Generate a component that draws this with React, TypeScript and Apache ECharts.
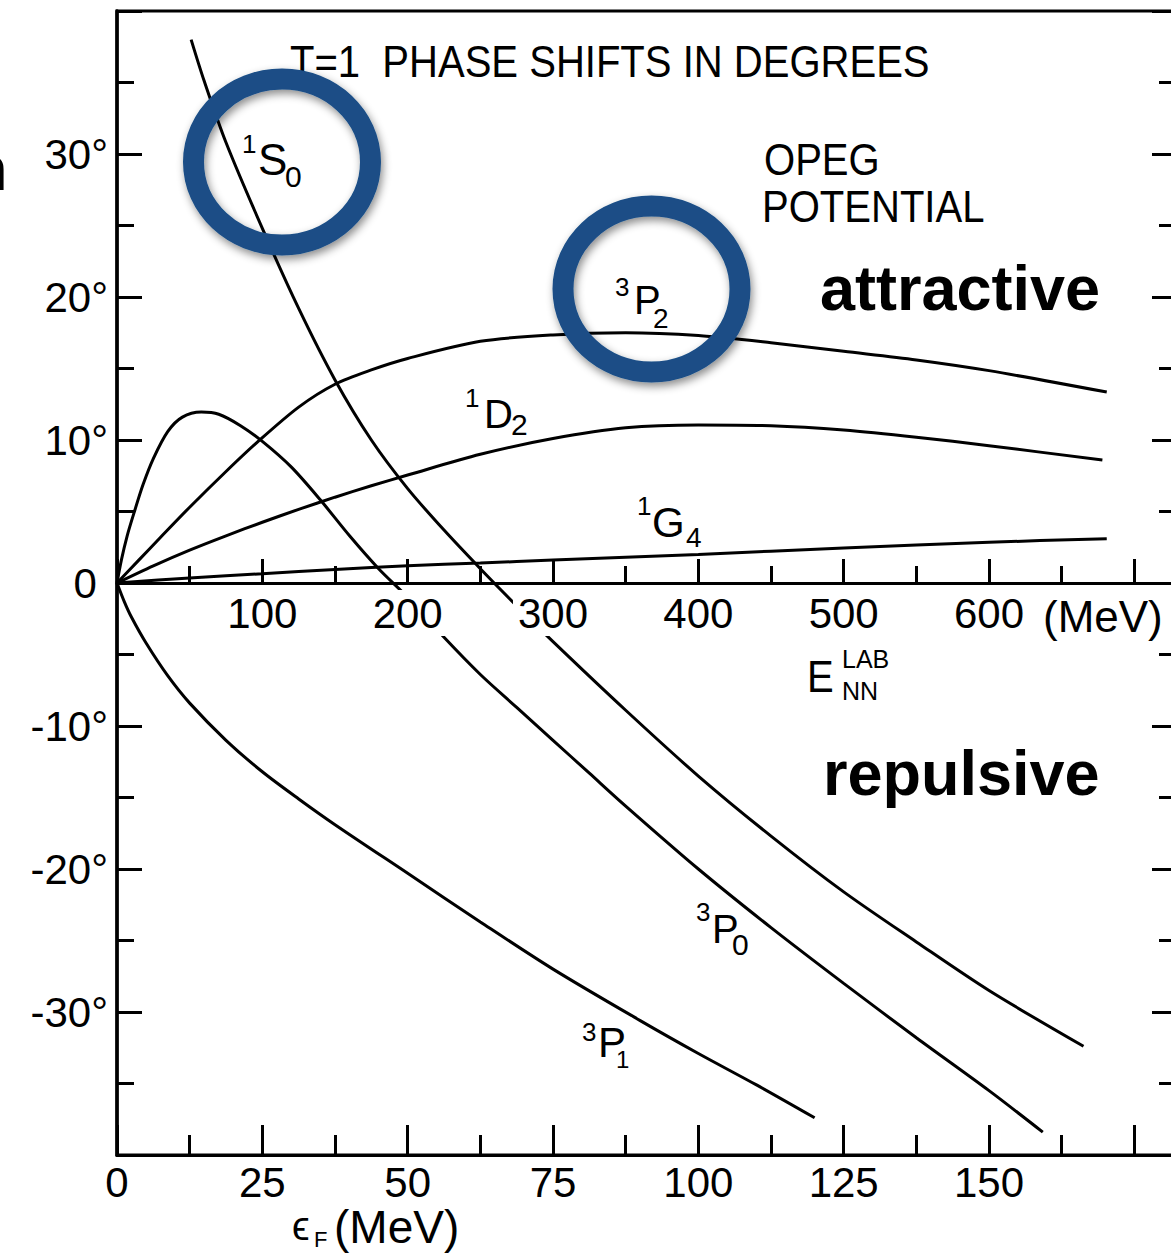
import React, { useEffect, useRef } from "react";
import * as echarts from "echarts";

// T = 1 nucleon-nucleon phase shifts (degrees) vs. laboratory energy E_NN (MeV), OPEG potential
const S0: [number, number][] = [
  [51, 38.0], [60, 35.1], [75, 30.8], [100, 24.8], [125, 19.2], [150, 14.2], [175, 10.0],
  [200, 6.6], [225, 3.7], [250, 1.0], [275, -1.6], [300, -4.1], [350, -8.9], [400, -13.5],
  [450, -17.7], [500, -21.6], [550, -25.1], [600, -28.5], [665, -32.4],
];
const P0: [number, number][] = [
  [0, 0], [3, 1.6], [7, 3.3], [12, 5.0], [18, 6.9], [25, 8.7], [35, 10.6], [45, 11.6],
  [58, 11.95], [70, 11.8], [85, 11.0], [100, 9.9], [120, 8.1], [140, 5.8], [160, 3.3],
  [180, 1.0], [200, -1.0], [225, -3.8], [250, -6.4], [275, -8.7], [300, -11.0], [325, -13.3],
  [350, -15.6], [400, -20.0], [450, -24.1], [500, -28.0], [550, -31.8], [600, -35.5], [637, -38.4],
];
const P1: [number, number][] = [
  [0, 0], [5, -1.3], [10, -2.4], [20, -4.2], [35, -6.5], [50, -8.4], [75, -11.0], [100, -13.2],
  [125, -15.1], [150, -16.9], [200, -20.3], [250, -23.7], [300, -27.0], [360, -30.6],
  [400, -32.9], [440, -35.1], [480, -37.4],
];
const P2: [number, number][] = [
  [0, 0], [15, 1.6], [30, 3.2], [50, 5.3], [75, 7.8], [96, 9.8], [125, 12.3], [150, 13.9],
  [175, 14.9], [200, 15.7], [250, 16.9], [300, 17.35], [350, 17.5], [400, 17.3], [450, 16.8],
  [500, 16.2], [550, 15.6], [600, 14.85], [681, 13.35],
];
const D2: [number, number][] = [
  [0, 0], [25, 1.2], [50, 2.3], [75, 3.3], [100, 4.25], [125, 5.15], [150, 6.0], [175, 6.8],
  [200, 7.55], [250, 9.0], [300, 10.1], [350, 10.85], [400, 11.05], [450, 11.0], [500, 10.7],
  [550, 10.2], [600, 9.6], [678, 8.6],
];
const G4: [number, number][] = [
  [0, 0], [50, 0.35], [100, 0.65], [150, 0.95], [200, 1.2], [250, 1.4], [300, 1.6], [400, 2.0],
  [500, 2.45], [600, 2.85], [681, 3.1],
];

const WAVES = [S0, P0, P1, P2, D2, G4];

// lab-energy tick labels (MeV), Fermi-energy tick labels (MeV), phase tick labels (degrees)
const E_LAB_LABELS = [100, 200, 300, 400, 500, 600];
const E_F_LABELS = [0, 25, 50, 75, 100, 125, 150];
const DEGREE_LABELS = [-30, -20, -10, 0, 10, 20, 30];

// spectroscopic labels: superscript, letter, subscript
const TERMS = [
  { sup: "1", main: "S", sub: "0" },
  { sup: "3", main: "P", sub: "0" },
  { sup: "3", main: "P", sub: "1" },
  { sup: "3", main: "P", sub: "2" },
  { sup: "1", main: "D", sub: "2" },
  { sup: "1", main: "G", sub: "4" },
];

const FONT = '"Liberation Sans", Arial, "DejaVu Sans", sans-serif';
const INK = "#000";
const RING = "#1a4e86";

// placement of each spectroscopic label: left x and centre y of [sup, main, sub], font sizes
const TERM_LAYOUT = [
  { x: [242, 258, 285], y: [144, 159, 176], s: [26, 44, 30] },
  { x: [696, 712, 732], y: [912, 929, 944], s: [26, 40, 30] },
  { x: [582, 598, 616], y: [1032, 1042, 1059], s: [26, 42, 24] },
  { x: [615, 634, 653], y: [287, 300, 318], s: [26, 40, 28] },
  { x: [465, 484, 511], y: [398, 414, 424], s: [26, 40, 30] },
  { x: [637, 652, 686], y: [506, 522, 537], s: [26, 42, 28] },
];

type TxtOpts = { bold?: boolean; scaleX?: number; z?: number };
function txt(text: string, x: number, y: number, size: number, o: TxtOpts = {}) {
  return {
    type: "text",
    x,
    y,
    z: o.z ?? 50,
    scaleX: o.scaleX ?? 1,
    silent: true,
    style: {
      text,
      fontSize: size,
      fontFamily: FONT,
      fontWeight: o.bold ? "bold" : "normal",
      fill: INK,
      align: "left",
      verticalAlign: "middle",
      textAlign: "left",
      textVerticalAlign: "middle",
    },
  };
}

function ring(cx: number, cy: number) {
  return {
    type: "ellipse",
    z: 100,
    silent: true,
    shape: { cx, cy, rx: 88.5, ry: 83 },
    style: {
      fill: "none",
      stroke: RING,
      lineWidth: 21,
      shadowBlur: 8,
      shadowOffsetX: 2,
      shadowOffsetY: 4,
      shadowColor: "rgba(0,0,0,0.45)",
    },
  };
}

function buildGraphic() {
  const els: any[] = [];
  els.push(txt("T=1  PHASE SHIFTS IN DEGREES", 290, 61, 45, { scaleX: 0.89 }));
  els.push(txt("OPEG", 764, 159, 45, { scaleX: 0.89 }));
  els.push(txt("POTENTIAL", 762, 206, 45, { scaleX: 0.89 }));
  els.push(txt("(MeV)", 1043, 616, 44));
  // E_NN^LAB axis title
  els.push(txt("E", 807, 676, 45, { scaleX: 0.89 }));
  els.push(txt("LAB", 842, 659, 25));
  els.push(txt("NN", 842, 691, 25));
  // ϵ_F (MeV) axis title
  els.push(txt("ϵ", 292, 1226, 40));
  els.push(txt("F", 314, 1239, 22));
  els.push(txt("(MeV)", 334, 1227, 46));
  TERMS.forEach((t, i) => {
    const L = TERM_LAYOUT[i];
    els.push(txt(t.sup, L.x[0], L.y[0], L.s[0]));
    els.push(txt(t.main, L.x[1], L.y[1], L.s[1]));
    els.push(txt(t.sub, L.x[2], L.y[2], L.s[2]));
  });
  els.push(txt("attractive", 820, 288, 63, { bold: true }));
  els.push(txt("repulsive", 823, 773, 63, { bold: true }));
  els.push(txt("n", -31, 168, 63, { bold: true }));
  els.push(ring(282, 162));
  els.push(ring(651.5, 289));
  return els;
}

const tickLine = { color: INK, width: 3 };

export default function App() {
  const ref = useRef<HTMLDivElement>(null);

  useEffect(() => {
    if (!ref.current) return;
    const chart = echarts.init(ref.current, undefined, { renderer: "svg" });
    const gridLeft = 117;
    const gridTop = 11;
    const gridHeight = 1144; // -40° … 40°
    const gridWidth = 1162.7; // 0 … 800 MeV
    const gridRight = gridLeft + gridWidth;
    const zeroShift = -gridHeight / 2; // bottom edge -> δ = 0 line

    const option: any = {
      animation: false,
      backgroundColor: "#fff",
      grid: {
        left: gridLeft,
        top: gridTop,
        width: gridWidth,
        height: gridHeight,
        show: true,
        borderColor: INK,
        borderWidth: 3,
        backgroundColor: "transparent",
        containLabel: false,
        outerBoundsMode: "none",
      },
      xAxis: [
        {
          // Fermi energy scale along the bottom frame
          type: "value",
          position: "bottom",
          min: 0,
          max: 200,
          interval: 25,
          axisLine: { onZero: false, lineStyle: { color: INK, width: 3 } },
          axisTick: { inside: true, length: 30, lineStyle: tickLine },
          minorTick: { show: true, splitNumber: 2, length: 20, lineStyle: tickLine },
          splitLine: { show: false },
          minorSplitLine: { show: false },
          axisLabel: {
            margin: 6,
            fontSize: 42,
            fontFamily: FONT,
            color: INK,
            formatter: (v: number) => (E_F_LABELS.includes(v) ? String(v) : ""),
          },
        },
        {
          // laboratory energy scale drawn along δ = 0
          type: "value",
          position: "bottom",
          offset: zeroShift,
          min: 0,
          max: 800,
          interval: 100,
          z: 3,
          axisLine: { onZero: false, lineStyle: { color: INK, width: 3 } },
          axisTick: { inside: true, length: 24, lineStyle: tickLine },
          minorTick: { show: true, splitNumber: 2, length: 17, lineStyle: tickLine },
          splitLine: { show: false },
          minorSplitLine: { show: false },
          axisLabel: {
            margin: 7,
            fontSize: 42,
            fontFamily: FONT,
            color: INK,
            formatter: (v: number) => (E_LAB_LABELS.includes(v) ? `{b|${v}}` : ""),
            rich: {
              b: {
                fontSize: 42,
                fontFamily: FONT,
                color: INK,
                backgroundColor: "#fff",
                padding: [2, 5],
              },
            },
          },
        },
      ],
      yAxis: [
        {
          type: "value",
          position: "left",
          min: -40,
          max: 40,
          interval: 10,
          axisLine: { onZero: false, lineStyle: { color: INK, width: 3.5 } },
          axisTick: { inside: true, length: 25, lineStyle: tickLine },
          minorTick: { show: true, splitNumber: 2, length: 17, lineStyle: tickLine },
          splitLine: { show: false },
          minorSplitLine: { show: false },
          axisLabel: {
            margin: 9,
            fontSize: 42,
            fontFamily: FONT,
            color: INK,
            formatter: (v: number) => {
              if (!DEGREE_LABELS.includes(v)) return "";
              return v === 0 ? "0{h|°}" : `${v}°`;
            },
            rich: { h: { color: "transparent", fontSize: 28, fontFamily: FONT } },
          },
        },
        {
          type: "value",
          position: "right",
          offset: 1176 - gridRight,
          min: -40,
          max: 40,
          interval: 10,
          axisLine: { onZero: false, lineStyle: { color: INK, width: 3 } },
          axisTick: { inside: true, length: 24, lineStyle: tickLine },
          minorTick: { show: true, splitNumber: 2, length: 17, lineStyle: tickLine },
          splitLine: { show: false },
          minorSplitLine: { show: false },
          axisLabel: { show: false },
        },
      ],
      series: WAVES.map((data, i) => ({
        name: `${TERMS[i].sup}${TERMS[i].main}${TERMS[i].sub}`,
        type: "line",
        xAxisIndex: 1,
        yAxisIndex: 0,
        data,
        smooth: 0.3,
        symbol: "none",
        silent: true,
        z: 2,
        lineStyle: { color: INK, width: 3 },
      })),
      graphic: { elements: buildGraphic() },
    };

    chart.setOption(option);
    return () => chart.dispose();
  }, []);

  return (
    <div
      style={{
        position: "fixed",
        left: 0,
        top: 0,
        width: 1171,
        height: 1253,
        overflow: "hidden",
        background: "#fff",
      }}
    >
      <div ref={ref} style={{ width: 1300, height: 1253 }} />
    </div>
  );
}
